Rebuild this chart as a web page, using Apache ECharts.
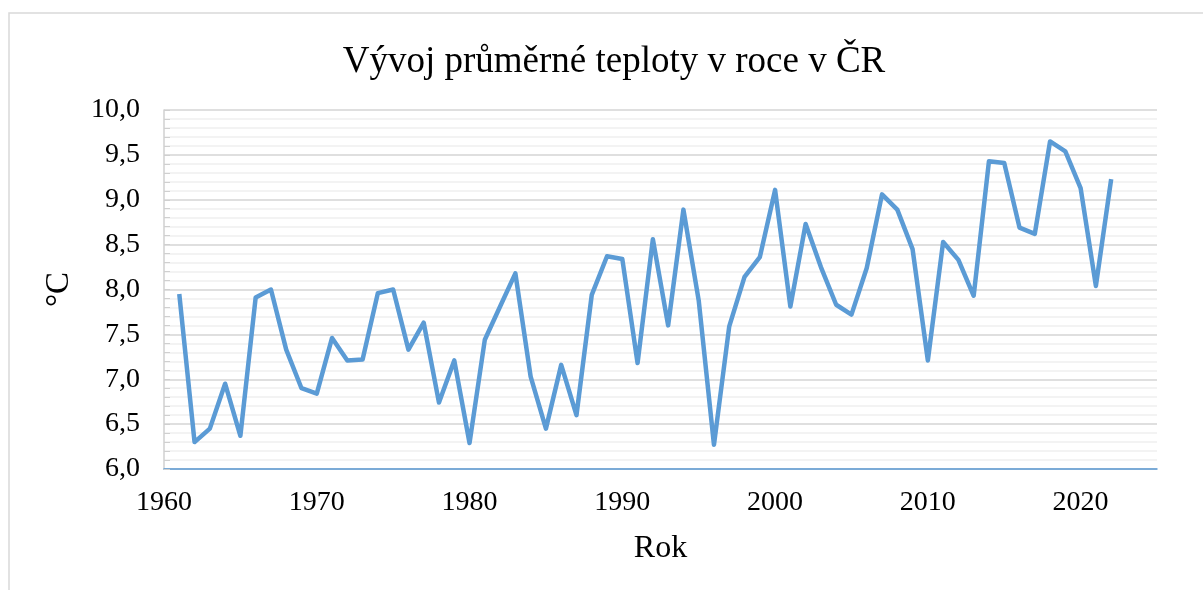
<!DOCTYPE html>
<html>
<head>
<meta charset="utf-8">
<title>Vývoj průměrné teploty</title>
<script src="https://cdn.jsdelivr.net/npm/echarts@6/dist/echarts.min.js"></script>
<style>
    html, body { margin: 0; padding: 0; background: #fff; }
    #chart { width: 1203px; height: 590px; }
</style>
</head>
<body>
<div id="chart"></div>
<script>
    // roky a průměrné teploty (°C)
    var roky = [1961, 1962, 1963, 1964, 1965, 1966, 1967, 1968, 1969, 1970,
        1971, 1972, 1973, 1974, 1975, 1976, 1977, 1978, 1979, 1980,
        1981, 1982, 1983, 1984, 1985, 1986, 1987, 1988, 1989, 1990,
        1991, 1992, 1993, 1994, 1995, 1996, 1997, 1998, 1999, 2000,
        2001, 2002, 2003, 2004, 2005, 2006, 2007, 2008, 2009, 2010,
        2011, 2012, 2013, 2014, 2015, 2016, 2017, 2018, 2019, 2020,
        2021, 2022];
    var teploty = [7.95, 6.30, 6.45, 6.95, 6.37, 7.91, 8.00, 7.33, 6.90, 6.84,
        7.46, 7.21, 7.22, 7.96, 8.00, 7.33, 7.63, 6.74, 7.21, 6.29,
        7.44, 7.81, 8.18, 7.03, 6.45, 7.16, 6.60, 7.94, 8.37, 8.34,
        7.18, 8.56, 7.60, 8.89, 7.88, 6.27, 7.59, 8.14, 8.36, 9.11,
        7.81, 8.73, 8.25, 7.83, 7.72, 8.24, 9.06, 8.89, 8.45, 7.21,
        8.53, 8.33, 7.93, 9.43, 9.41, 8.69, 8.62, 9.65, 9.54, 9.13,
        8.04, 9.23];

    var data = [];
    for (var i = 0; i < roky.length; i++) {
        data.push([roky[i], teploty[i]]);
    }

    var font = '"Liberation Serif", "Times New Roman", serif';
    var myChart = echarts.init(document.getElementById('chart'));
    var option = {
        animation: false,
        title: {
            text: 'Vývoj průměrné teploty v roce v ČR',
            left: 609,
            textAlign: 'center',
            top: 39,
            textStyle: { fontFamily: font, fontSize: 37, fontWeight: 'normal', color: '#000' }
        },
        graphic: [{
            type: 'rect',
            shape: { x: 9, y: 13, width: 1260, height: 650 },
            style: { fill: 'none', stroke: '#d9d9d9', lineWidth: 1.5 },
            silent: true
        }],
        grid: { left: 164, right: 46, top: 110, bottom: 121 },
        xAxis: {
            type: 'value',
            min: 1960,
            max: 2025,
            interval: 10,
            name: 'Rok',
            nameLocation: 'middle',
            nameGap: 64,
            nameTextStyle: { fontFamily: font, fontSize: 32, color: '#000' },
            axisLine: { show: true, lineStyle: { color: '#5b9bd5', width: 1.5 } },
            axisTick: { show: false },
            splitLine: { show: false },
            axisLabel: {
                showMaxLabel: false,
                margin: 20,
                fontFamily: font, fontSize: 28, color: '#000',
                formatter: function (v) { return String(v); }
            }
        },
        yAxis: {
            type: 'value',
            min: 6,
            max: 10,
            interval: 0.5,
            name: '°C',
            nameLocation: 'middle',
            nameGap: 88,
            nameTextStyle: { fontFamily: font, fontSize: 33, color: '#000' },
            axisLine: { show: true, lineStyle: { color: '#d0d0d0', width: 1.5 } },
            axisTick: { show: true, inside: true, length: 6, lineStyle: { color: '#d0d0d0' } },
            minorTick: { show: true, splitNumber: 5, length: 6, lineStyle: { color: '#d0d0d0' } },
            splitLine: { show: true, lineStyle: { color: '#d4d4d4', width: 1.5 } },
            minorSplitLine: { show: true, lineStyle: { color: '#efefef', width: 1.5 } },
            axisLabel: {
                margin: 24,
                fontFamily: font, fontSize: 28, color: '#000',
                formatter: function (v) { return v.toFixed(1).replace('.', ','); }
            }
        },
        series: [{
            type: 'line',
            data: data,
            showSymbol: false,
            symbol: 'none',
            lineStyle: { color: '#5b9bd5', width: 4.5, join: 'round' },
            z: 5
        }]
    };
    myChart.setOption(option);
</script>
</body>
</html>
